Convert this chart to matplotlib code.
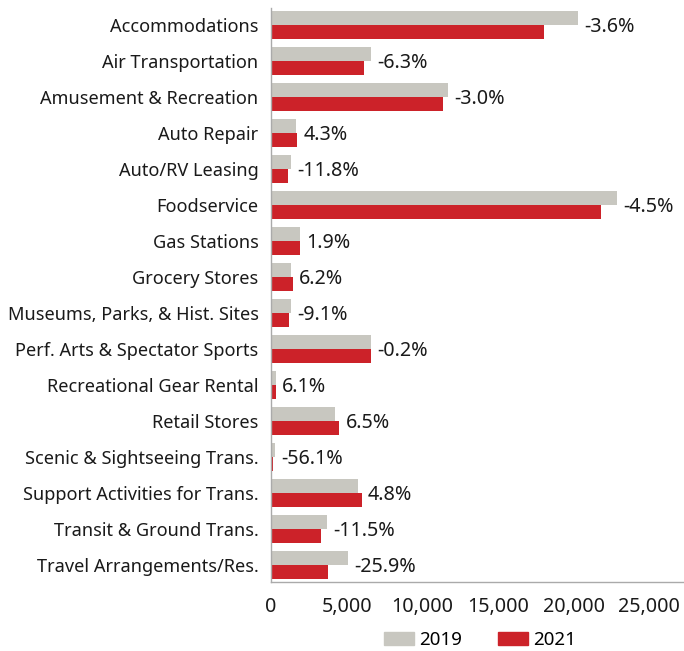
import numpy as np
import matplotlib.pyplot as plt
from matplotlib.patches import Patch

# --- Data ---
categories = [
    "Accommodations",
    "Air Transportation",
    "Amusement & Recreation",
    "Auto Repair",
    "Auto/RV Leasing",
    "Foodservice",
    "Gas Stations",
    "Grocery Stores",
    "Museums, Parks, & Hist. Sites",
    "Perf. Arts & Spectator Sports",
    "Recreational Gear Rental",
    "Retail Stores",
    "Scenic & Sightseeing Trans.",
    "Support Activities for Trans.",
    "Transit & Ground Trans.",
    "Travel Arrangements/Res.",
]
values_2019 = [20300, 6600, 11680, 1650, 1300, 22850, 1920, 1320, 1300,
               6620, 310, 4240, 270, 5740, 3690, 5120]
values_2021 = [18030, 6180, 11340, 1720, 1150, 21810, 1940, 1430, 1190,
               6610, 330, 4520, 120, 6000, 3310, 3800]
pct_labels = ["-3.6%", "-6.3%", "-3.0%", "4.3%", "-11.8%", "-4.5%", "1.9%",
              "6.2%", "-9.1%", "-0.2%", "6.1%", "6.5%", "-56.1%", "4.8%",
              "-11.5%", "-25.9%"]
x_ticks = [0, 5000, 10000, 15000, 20000, 25000]

gray = '#c8c7c0'
red = '#cc2229'
plt.rcParams['font.family'] = ['Noto Sans', 'DejaVu Sans']

W, H = 684, 651
fig = plt.figure(figsize=(W / 100, H / 100), dpi=100)
left, right, top, bottom = 271, 684, 8, 581.7
ax = fig.add_axes([left / W, (H - bottom) / H, (right - left) / W, (bottom - top) / H])

y = np.arange(len(categories))
bh = 0.39
ax.barh(y - bh / 2, values_2019, height=bh, color=gray)
ax.barh(y + bh / 2, values_2021, height=bh, color=red)

for i, lab in enumerate(pct_labels):
    xend = max(values_2019[i], values_2021[i])
    ax.annotate(lab, (xend, i + 0.05), xytext=(4.5, 0), textcoords='offset points',
                va='center', ha='left', fontsize=14.2, color='#1a1a1a')

ax.set_xlim(0, 27300)
ax.set_ylim(len(categories) - 0.53, -0.47)
ax.set_yticks(y)
ax.set_yticklabels(categories, fontsize=13.1, color='#1a1a1a')
ax.set_xticks(x_ticks)
ax.set_xticklabels([f"{v:,}" for v in x_ticks], fontsize=14.2, color='#1a1a1a')
ax.tick_params(axis='both', length=0)
ax.tick_params(axis='y', pad=9)
ax.tick_params(axis='x', pad=11)

for s in ['top', 'right']:
    ax.spines[s].set_visible(False)
for s in ['left', 'bottom']:
    ax.spines[s].set_color('#aaaaaa')
    ax.spines[s].set_linewidth(1.0)

handles = [Patch(color=gray, label='2019'), Patch(color=red, label='2021')]
fig.legend(handles=handles, loc='center', bbox_to_anchor=(480 / W, 11 / H),
           ncol=2, frameon=False, fontsize=13.5, handlelength=1.6,
           handleheight=0.75, handletextpad=0.3, columnspacing=1.9)

plt.savefig('out.png', dpi=100)
